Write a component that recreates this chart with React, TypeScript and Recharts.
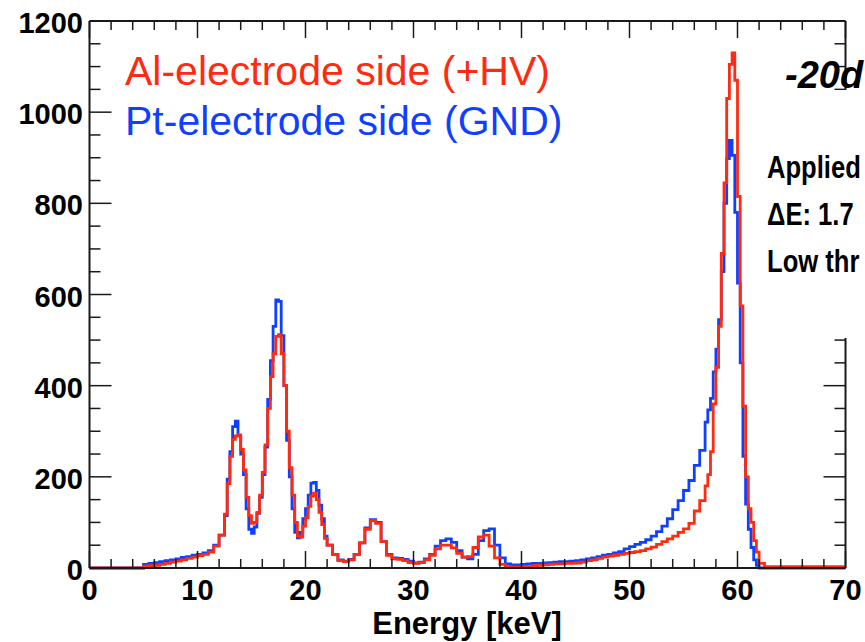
import React from "react";
import { LineChart, Line, XAxis, YAxis, ReferenceLine } from "recharts";

// bin left edges [keV]; 0.25 keV bins around the narrow peaks
const energies = [
  0, 0.5, 1, 1.5, 2, 2.5, 3, 3.5, 4, 4.5, 5, 5.5, 6, 6.5, 7, 7.5, 8, 8.5, 9, 9.5, 10, 10.5, 11, 11.5, 12,
  12.5, 12.75, 13, 13.25, 13.5, 13.75, 14, 14.25, 14.5, 14.75, 15, 15.25, 15.5, 15.75, 16, 16.25, 16.5, 16.75, 17, 17.25,
  17.5, 17.75, 18, 18.25, 18.5, 18.75, 19, 19.25, 19.5, 19.75, 20, 20.25, 20.5, 20.75, 21, 21.25, 21.5, 21.75,
  22, 22.5, 23, 23.5, 24, 24.5, 25, 25.5, 26, 26.5, 27, 27.5, 28, 28.5, 29, 29.5, 30, 30.5, 31, 31.5,
  32, 32.5, 33, 33.5, 34, 34.5, 35, 35.5, 36, 36.5, 37, 37.5, 38, 38.5, 39, 39.5, 40, 40.5, 41, 41.5,
  42, 42.5, 43, 43.5, 44, 44.5, 45, 45.5, 46, 46.5, 47, 47.5, 48, 48.5, 49, 49.5, 50, 50.5, 51, 51.5,
  52, 52.5, 53, 53.5, 54, 54.5, 55, 55.5, 56, 56.5,
  57, 57.25, 57.5, 57.75, 58, 58.25, 58.5, 58.75, 59, 59.25, 59.5, 59.75, 60, 60.25, 60.5, 60.75, 61, 61.25, 61.5, 61.75,
  62, 62.5, 63, 63.5, 64, 64.5, 65, 65.5, 66, 66.5, 67, 67.5, 68, 68.5, 69, 69.5, 70,
];

// counts, Al-electrode side (+HV)
const alSide = [
  0, 0, 0, 0, 0, 0, 0, 0, 0, 0, 4, 5, 6, 8, 10, 13, 15, 18, 21, 24, 27, 30, 35, 48, 72,
  118, 185, 245, 282, 290, 292, 260, 215, 155, 115, 98, 100, 122, 160, 210, 270, 350, 420, 470, 508,
  512, 470, 400, 300, 220, 160, 100, 70, 68, 92, 110, 135, 158, 164, 150, 122, 95, 65,
  50, 30, 16, 14, 18, 30, 55, 85, 104, 98, 58, 28, 20, 19, 16, 12, 10, 12, 18, 28,
  42, 50, 50, 44, 32, 24, 25, 45, 68, 72, 48, 22, 8, 3, 2, 2, 3, 3, 5, 6,
  7, 8, 9, 9, 10, 10, 11, 13, 16, 18, 21, 24, 26, 28, 30, 32, 34, 36, 38, 42,
  46, 52, 58, 64, 70, 78, 86, 98, 125, 148,
  180, 205, 255, 360, 440, 530, 690, 845, 1030, 1105, 1130, 1070, 815, 575, 355, 200, 130, 100, 60, 35,
  10, 3, 3, 3, 3, 3, 3, 3, 3, 3, 3, 3, 3, 3, 3, 3, 3,
];

// counts, Pt-electrode side (GND)
const ptSide = [
  0, 0, 0, 0, 0, 0, 0, 0, 0, 0, 8, 10, 12, 14, 16, 18, 20, 23, 25, 28, 30, 33, 38, 50, 72,
  115, 195, 255, 310, 322, 290, 250, 205, 130, 85, 76, 90, 120, 155, 205, 265, 370, 455, 530, 588,
  585, 510, 400, 280, 200, 130, 78, 66, 78, 108, 130, 160, 186, 188, 170, 138, 108, 70,
  50, 30, 18, 15, 19, 30, 55, 88, 106, 100, 58, 30, 22, 21, 19, 15, 11, 13, 20, 30,
  48, 60, 64, 56, 38, 24, 20, 30, 60, 82, 86, 50, 22, 9, 7, 7, 8, 9, 10, 10,
  11, 12, 13, 14, 14, 15, 16, 18, 20, 22, 25, 28, 30, 33, 36, 42, 47, 52, 56, 62,
  70, 80, 92, 108, 128, 148, 170, 192, 225, 258,
  320, 347, 372, 430, 480, 545, 650, 800, 898, 938, 905, 780, 625, 450, 245, 140, 85, 45, 18, 6,
  0, 0, 0, 0, 0, 0, 0, 0, 0, 0, 0, 0, 0, 0, 0, 0, 0,
];

const xTicks = [0, 2, 4, 6, 8, 10, 12, 14, 16, 18, 20, 22, 24, 26, 28, 30, 32, 34, 36, 38, 40, 42, 44, 46, 48, 50, 52, 54, 56, 58, 60, 62, 64, 66, 68, 70];
const xLabels = [0, 10, 20, 30, 40, 50, 60, 70];
const yTicks = [0, 50, 100, 150, 200, 250, 300, 350, 400, 450, 500, 550, 600, 650, 700, 750, 800, 850, 900, 950, 1000, 1050, 1100, 1150, 1200];
const yLabels = [0, 200, 400, 600, 800, 1000, 1200];

// text block at the right edge (only the part inside the picture is visible)
const infoLines = ["Applied", "ΔE: 1.7", "Low thr"];

const W = 865;
const H = 642;
const MARGIN = { top: 21, right: 19.5, left: 0, bottom: 0 };
const Y_AXIS_W = 89.5;
const X_AXIS_H = 74;
const PLOT_TOP = MARGIN.top;
const PLOT_BOTTOM = H - MARGIN.bottom - X_AXIS_H;
const PLOT_LEFT = MARGIN.left + Y_AXIS_W;
const PLOT_RIGHT = W - MARGIN.right;

const FONT = '"Liberation Sans", Arial, Helvetica, sans-serif';
const AXIS = "#1a1a1a";
const RED = "#ff2a10";
const BLUE = "#1040ff";

const data = energies.map((e, i) => ({ e, al: alSide[i], pt: ptSide[i] }));

function XTick(props: any) {
  const { x, payload } = props;
  const major = xLabels.includes(payload.value);
  const len = major ? 17 : 9;
  return (
    <g>
      <line x1={x} x2={x} y1={PLOT_BOTTOM} y2={PLOT_BOTTOM - len} stroke={AXIS} strokeWidth={1.5} />
      <line x1={x} x2={x} y1={PLOT_TOP} y2={PLOT_TOP + len} stroke={AXIS} strokeWidth={1.5} />
      {major && (
        <text x={x} y={600} textAnchor="middle" fontFamily={FONT} fontWeight="bold" fontSize={29} fill="#000">
          {payload.value}
        </text>
      )}
    </g>
  );
}

function YTick(props: any) {
  const { y, payload } = props;
  const major = yLabels.includes(payload.value);
  const len = major ? 22 : 11;
  return (
    <g>
      <line x1={PLOT_LEFT} x2={PLOT_LEFT + len} y1={y} y2={y} stroke={AXIS} strokeWidth={1.5} />
      <line x1={PLOT_RIGHT} x2={PLOT_RIGHT - len} y1={y} y2={y} stroke={AXIS} strokeWidth={1.5} />
      {major && (
        <text x={83} y={y + 12} textAnchor="end" fontFamily={FONT} fontWeight="bold" fontSize={29} fill="#000">
          {payload.value}
        </text>
      )}
    </g>
  );
}

export default function App() {
  return (
    <div style={{ position: "fixed", left: 0, top: 0, width: W, height: H, overflow: "hidden", background: "#fff" }}>
      <LineChart width={W} height={H} data={data} margin={MARGIN}>
        <XAxis
          type="number"
          dataKey="e"
          domain={[0, 70]}
          ticks={xTicks}
          interval={0}
          tickLine={false}
          axisLine={{ stroke: AXIS, strokeWidth: 2 }}
          tick={<XTick />}
          height={X_AXIS_H}
        />
        <YAxis
          type="number"
          domain={[0, 1200]}
          ticks={yTicks}
          interval={0}
          tickLine={false}
          axisLine={{ stroke: AXIS, strokeWidth: 2 }}
          tick={<YTick />}
          width={Y_AXIS_W}
        />
        <ReferenceLine y={1200} stroke={AXIS} strokeWidth={2} />
        <ReferenceLine x={70} stroke={AXIS} strokeWidth={2} />
        <Line
          type="stepAfter"
          dataKey="pt"
          stroke={BLUE}
          strokeWidth={2.8}
          dot={false}
          strokeLinejoin="miter"
          isAnimationActive={false}
        />
        <Line
          type="stepAfter"
          dataKey="al"
          stroke={RED}
          strokeWidth={2.8}
          dot={false}
          strokeLinejoin="miter"
          isAnimationActive={false}
        />
      </LineChart>
      <svg width={W} height={H} style={{ position: "absolute", left: 0, top: 0, pointerEvents: "none" }}>
        <text x={125} y={85} fontFamily={FONT} fontSize={41} fill={RED}>
          Al-electrode side (+HV)
        </text>
        <text x={125} y={135} fontFamily={FONT} fontSize={41} fill={BLUE}>
          Pt-electrode side (GND)
        </text>
        <text x={467} y={634} textAnchor="middle" fontFamily={FONT} fontWeight="bold" fontSize={31} fill="#000">
          Energy [keV]
        </text>
        <rect x={757} y={90} width={W - 757} height={248} fill="#fff" />
        <text x={785} y={88} fontFamily={FONT} fontWeight="bold" fontStyle="italic" fontSize={38} fill="#000">
          -20d
        </text>
        {infoLines.map((t, i) => (
          <text
            key={t}
            transform={`translate(767, ${178 + i * 47}) scale(0.8, 1)`}
            fontFamily={FONT}
            fontWeight="bold"
            fontSize={32}
            fill="#000"
          >
            {t}
          </text>
        ))}
      </svg>
    </div>
  );
}
